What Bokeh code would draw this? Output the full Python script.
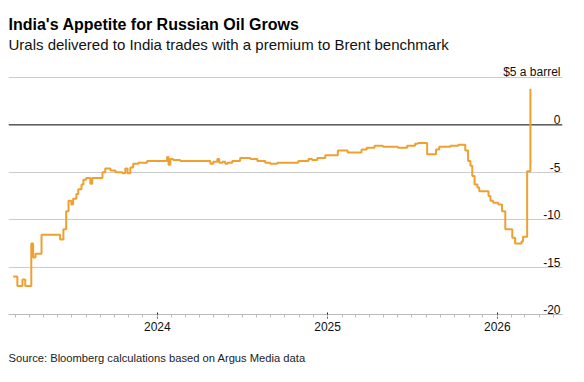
import pandas as pd
from bokeh.plotting import figure
from bokeh.models import (Range1d, FixedTicker, Grid, Span, Title, ColumnDataSource,
                          DatetimeTickFormatter)
from bokeh.core.properties import value
from bokeh.embed import file_html
from bokeh.resources import INLINE

title = "India's Appetite for Russian Oil Grows"
subtitle = "Urals delivered to India trades with a premium to Brent benchmark"
source_note = "Source: Bloomberg calculations based on Argus Media data"

dates = [
    "2023-02-25", "2023-03-06", "2023-03-17", "2023-03-23", "2023-04-05", "2023-04-09",
    "2023-04-14", "2023-04-27", "2023-06-06", "2023-06-13", "2023-06-19", "2023-06-24",
    "2023-06-30", "2023-07-04", "2023-07-11", "2023-07-15", "2023-07-22", "2023-07-26",
    "2023-08-01", "2023-08-10", "2023-08-14", "2023-09-05", "2023-09-11", "2023-09-22",
    "2023-10-03", "2023-10-18", "2023-10-24", "2023-10-29", "2023-11-04", "2023-11-10",
    "2023-11-21", "2023-12-10", "2024-01-22", "2024-01-25", "2024-01-29", "2024-02-04",
    "2024-02-19", "2024-04-24", "2024-04-30", "2024-05-09", "2024-05-13", "2024-05-20",
    "2024-05-26", "2024-05-31", "2024-06-10", "2024-06-27", "2024-07-19", "2024-08-03",
    "2024-08-20", "2024-08-31", "2024-09-15", "2024-10-30", "2024-11-21", "2024-11-29",
    "2024-12-10", "2024-12-27", "2025-01-23", "2025-02-13", "2025-03-15", "2025-03-26",
    "2025-04-12", "2025-04-30", "2025-06-01", "2025-06-21", "2025-07-08", "2025-07-14",
    "2025-08-03", "2025-08-22", "2025-08-29", "2025-09-22", "2025-10-09", "2025-10-24",
    "2025-10-30", "2025-11-04", "2025-11-08", "2025-11-13", "2025-11-19", "2025-11-23",
    "2025-12-13", "2025-12-17", "2025-12-23", "2026-01-03", "2026-01-11", "2026-01-18",
    "2026-02-02", "2026-02-08", "2026-02-22", "2026-02-25", "2026-03-06", "2026-03-13",
]
premium = [
    -16.0, -17.0, -16.3, -17.0, -12.5, -14.0,
    -13.6, -11.6, -12.1, -11.0, -9.1, -8.0,
    -8.4, -7.8, -7.3, -6.8, -6.3, -5.8,
    -5.6, -6.2, -5.6, -5.0, -4.6, -4.8,
    -5.0, -5.1, -4.6, -5.1, -4.5, -4.1,
    -4.0, -3.8, -3.4, -4.2, -3.6, -3.7,
    -3.8, -4.1, -3.9, -3.6, -4.0, -3.9,
    -4.1, -4.0, -3.8, -3.5, -3.6, -3.8,
    -4.0, -4.1, -4.0, -3.8, -3.6, -3.7,
    -3.5, -3.2, -2.7, -2.9, -2.6, -2.4,
    -2.2, -2.3, -2.4, -2.2, -2.0, -1.9,
    -3.1, -2.6, -2.3, -2.2, -2.1, -2.7,
    -3.8, -4.3, -5.4, -6.3, -6.6, -7.0,
    -7.5, -8.0, -8.2, -8.4, -9.1, -11.0,
    -11.9, -12.5, -12.3, -11.8, -4.9, 3.8,
]

y_ticks = [5, 0, -5, -10, -15, -20]
y_tick_labels = ["$5 a barrel", "0", "-5", "-10", "-15", "-20"]
grid_levels = [5, -5, -10, -15]
year_ticks = ["2024-01-01", "2025-01-01", "2026-01-01"]

FONT = "Liberation Sans"

def ms(d):
    return pd.Timestamp(d).value / 1e6

x_start = pd.Timestamp("2023-02-15")
x_end = pd.Timestamp("2026-05-21")
y_top = 13.12

p = figure(width=584, height=382, x_axis_type="datetime", y_axis_location=None,
           x_range=Range1d(x_start, x_end), y_range=Range1d(-20, y_top), title=None,
           output_backend="svg", toolbar_location=None,
           min_border_left=8, min_border_right=22, min_border_top=0, min_border_bottom=68)
p.outline_line_color = None
p.background_fill_color = "white"
p.border_fill_color = "white"
p.xgrid.visible = False
p.ygrid.visible = False

p.add_layout(Grid(dimension=1, ticker=FixedTicker(ticks=grid_levels),
                  grid_line_color="#cccccc", grid_line_width=1), "center")
p.add_layout(Span(location=0, dimension="width", line_color="black", line_width=1,
                  level="underlay"))

src = ColumnDataSource(dict(x=pd.to_datetime(dates), y=premium))
p.step(x="x", y="y", source=src, mode="after", line_color="#f0a030", line_width=2)

lab_src = ColumnDataSource(dict(x=[x_end] * len(y_ticks), y=y_ticks, t=y_tick_labels))
p.text(x="x", y="y", text="t", source=lab_src, text_align="right", text_baseline="alphabetic",
       x_offset=-2, y_offset=-5, text_font=value(FONT), text_font_size="12px", text_color="#111111")

# headline texts, anchored to the top-left corner of the frame
p.text(x=[x_start], y=[y_top], text=[title], text_align="left", text_baseline="alphabetic",
       y_offset=23.5, text_font=value(FONT), text_font_size="16px", text_font_style="bold",
       text_color="#000000")
p.text(x=[x_start], y=[y_top], text=[subtitle], text_align="left", text_baseline="alphabetic",
       y_offset=43.5, text_font=value(FONT), text_font_size="15px", text_color="#111111")

ax = p.xaxis[0]
minor = pd.date_range("2023-03-01", "2026-05-01", freq="MS")
ax.ticker = FixedTicker(ticks=[ms(d) for d in year_ticks], minor_ticks=[ms(d) for d in minor])
ax.formatter = DatetimeTickFormatter(years="%Y", months="%Y", days="%Y", hours="%Y",
                                     minutes="%Y", seconds="%Y", milliseconds="%Y")
ax.axis_line_color = "#bbbbbb"
ax.major_tick_line_color = "#222222"
ax.major_tick_in = 2
ax.major_tick_out = 4
ax.minor_tick_in = 0
ax.minor_tick_out = 3
ax.minor_tick_line_color = "#bbbbbb"
ax.major_label_text_font = FONT
ax.major_label_text_font_size = "12px"
ax.major_label_text_color = "#111111"
ax.major_label_standoff = 3

p.add_layout(Title(text=source_note, align="left", text_font=FONT, text_font_size="11.2px",
                   text_font_style="normal", text_color="#222222", standoff=32, offset=0), "below")

open("out.html", "w").write(file_html(p, INLINE))
